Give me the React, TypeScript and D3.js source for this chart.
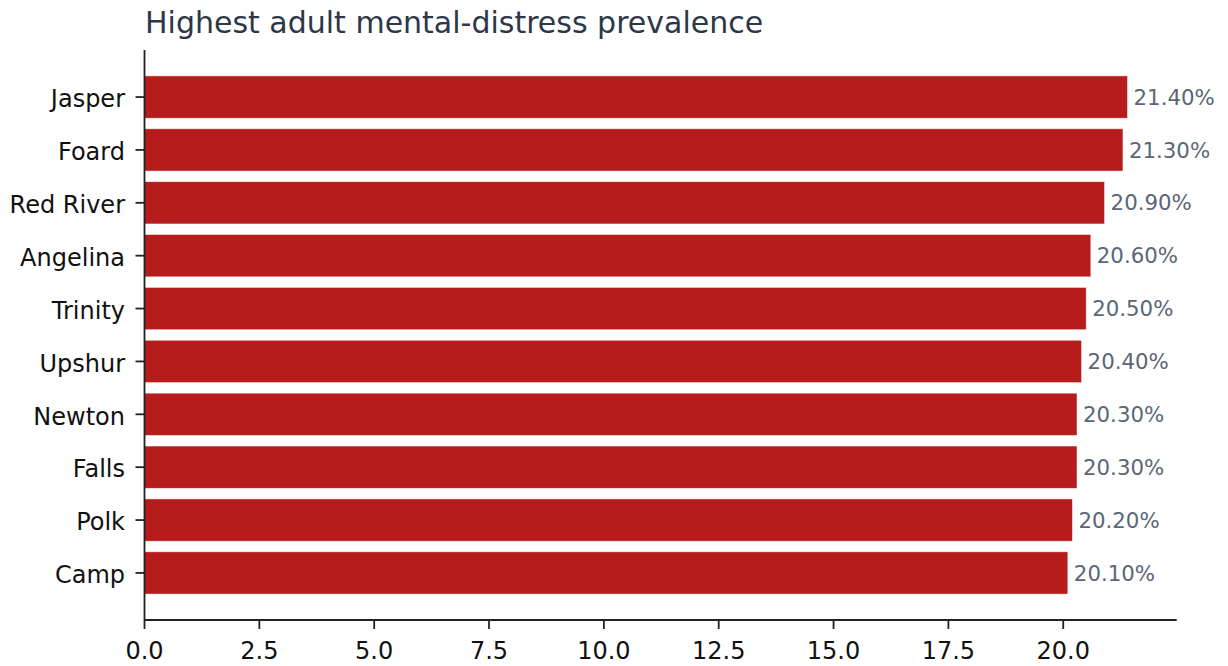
import React from "react";
import * as d3 from "d3";

// Counties with the highest share of adults reporting frequent mental distress (%)
const counties = ["Jasper", "Foard", "Red River", "Angelina", "Trinity", "Upshur", "Newton", "Falls", "Polk", "Camp"];
const prevalence = [21.4, 21.3, 20.9, 20.6, 20.5, 20.4, 20.3, 20.3, 20.2, 20.1];
const xTicks = [0, 2.5, 5, 7.5, 10, 12.5, 15, 17.5, 20];

const W = 1228;
const H = 666;
const left = 144.5;
const right = 1176.7;
const top = 50;
const bottom = 620;
const FONT = "'DejaVu Sans', sans-serif";

export default function App() {
  const xMax = d3.max(prevalence)! * 1.05;
  const x = d3.scaleLinear().domain([0, xMax]).range([left, right]);
  const n = counties.length;
  const pad = (n - 1 + 0.8) * 0.05;
  const y = d3.scaleLinear().domain([-0.4 - pad, n - 1 + 0.4 + pad]).range([top, bottom]);
  const barH = y(0.4) - y(-0.4);

  return (
    <svg width={W} height={H} style={{ position: "absolute", left: 0, top: 0, display: "block", background: "#fff" }}>
      <text x={145} y={33.3} fontFamily={FONT} fontSize={30} fill="#2d3748">
        Highest adult mental-distress prevalence
      </text>

      {counties.map((c, i) => (
        <g key={c}>
          <rect
            x={x(0)}
            y={y(i) - barH / 2}
            width={x(prevalence[i]) - x(0)}
            height={barH}
            fill="#b71c1c"
            stroke="#ffffff"
            strokeOpacity={0.6}
            strokeWidth={0.8}
          />
          <text
            x={x(prevalence[i]) + 6}
            y={y(i) + 7.6}
            fontFamily={FONT}
            fontSize={21.3}
            fill="#5b6678"
          >
            {prevalence[i].toFixed(2)}%
          </text>
          <line x1={x(0) - 9} x2={x(0)} y1={y(i)} y2={y(i)} stroke="#222" strokeWidth={1.8} />
          <text
            x={x(0) - 19.5}
            y={y(i) + 10.3}
            textAnchor="end"
            fontFamily={FONT}
            fontSize={24}
            fill="#111"
          >
            {c}
          </text>
        </g>
      ))}

      {/* axes spines */}
      <line x1={left} x2={left} y1={top} y2={bottom} stroke="#222" strokeWidth={1.8} />
      <line x1={left} x2={right} y1={bottom} y2={bottom} stroke="#222" strokeWidth={1.8} />

      {xTicks.map((t) => (
        <g key={t}>
          <line x1={x(t)} x2={x(t)} y1={bottom} y2={bottom + 9} stroke="#222" strokeWidth={1.8} />
          <text
            x={x(t)}
            y={bottom + 39}
            textAnchor="middle"
            fontFamily={FONT}
            fontSize={24}
            fill="#111"
          >
            {t.toFixed(1)}
          </text>
        </g>
      ))}
    </svg>
  );
}
